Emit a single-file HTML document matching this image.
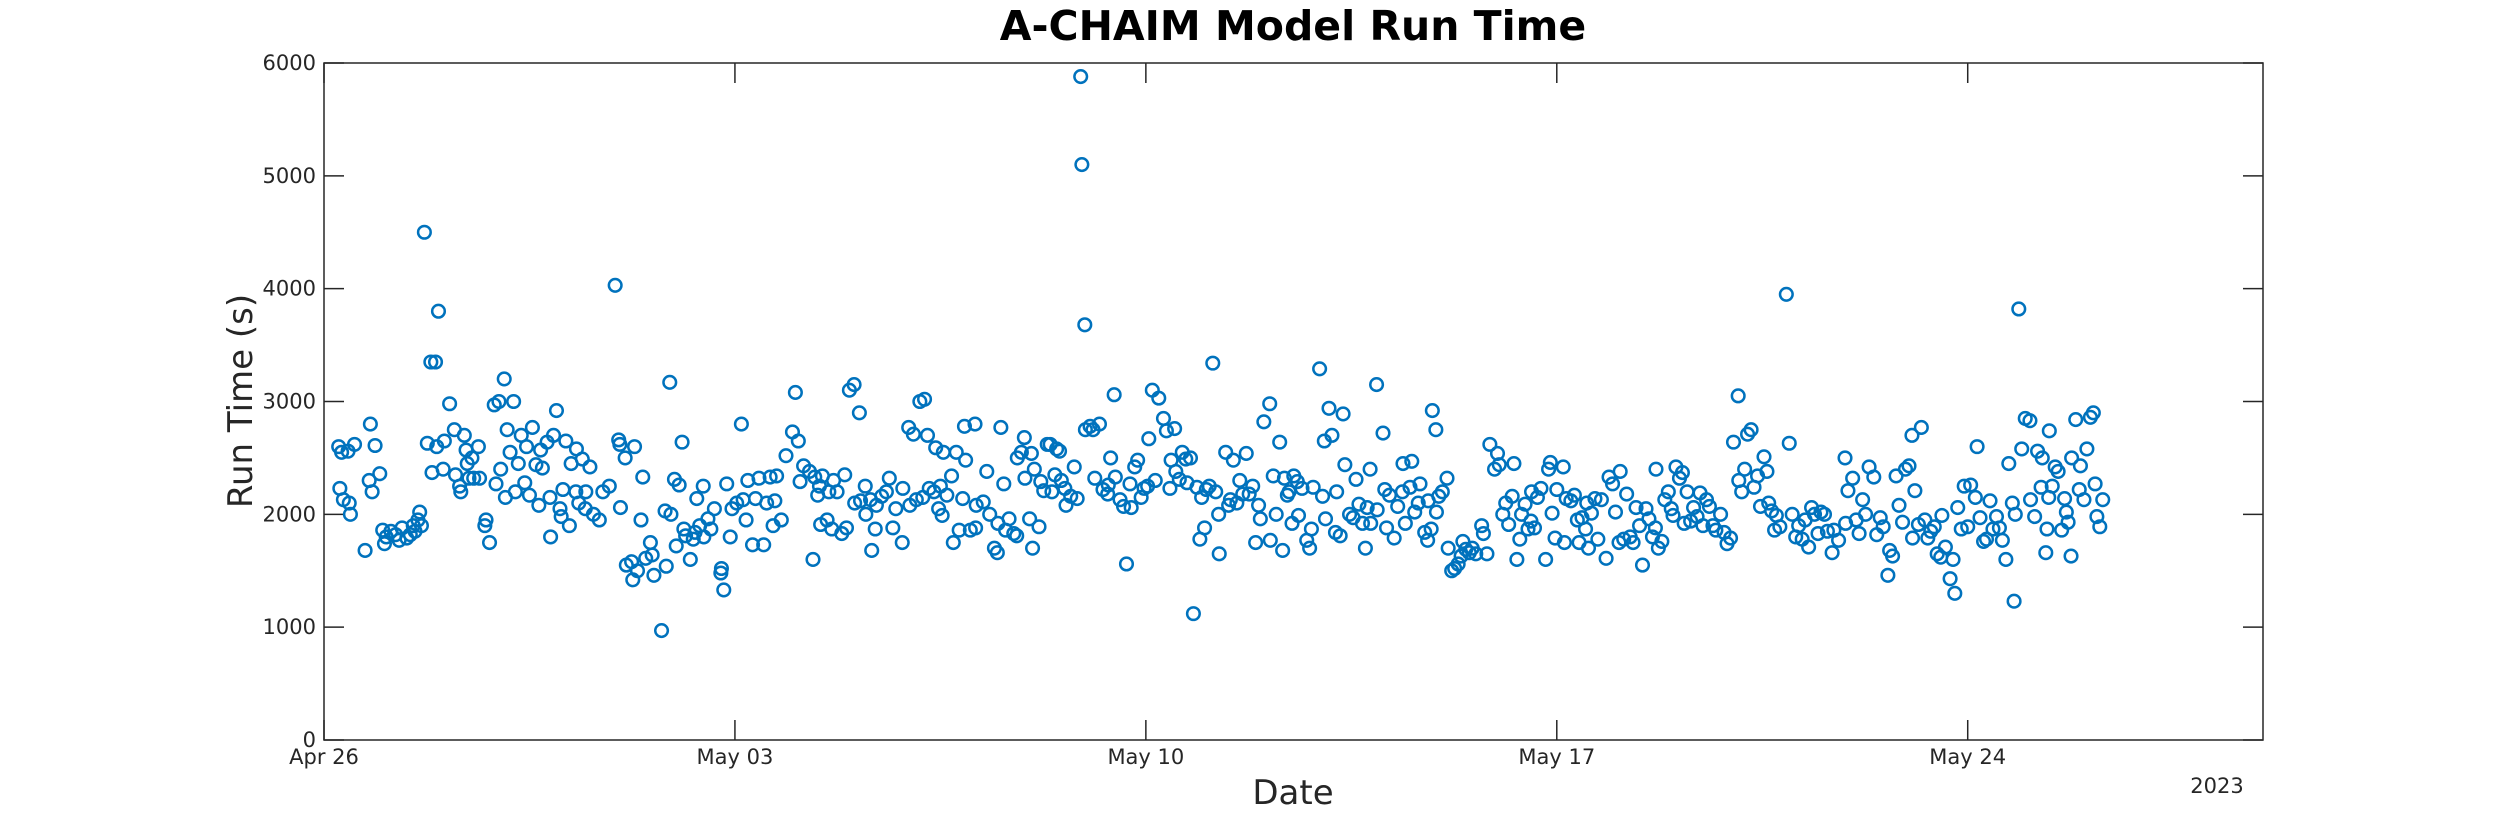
<!DOCTYPE html>
<html><head><meta charset="utf-8"><style>
html,body{margin:0;padding:0;background:#fff;}
svg{display:block;font-family:"Liberation Sans","DejaVu Sans",sans-serif;}
</style></head><body>
<svg id="chart" width="2500" height="833" viewBox="0 0 2500 833" xmlns="http://www.w3.org/2000/svg">
<rect x="0" y="0" width="2500" height="833" fill="#fff"/>
<text x="1293" y="40" text-anchor="middle" font-size="41" font-weight="bold" fill="#000" font-family="DejaVu Sans, Liberation Sans, sans-serif">A-CHAIM Model Run Time</text>
<g id="grid"></g>
<g id="marks"></g>
<rect x="324" y="63" width="1939" height="677" fill="none" stroke="#262626" stroke-width="1.5"/>
<text transform="translate(252,401) rotate(-90)" text-anchor="middle" font-size="34" fill="#262626" font-family="DejaVu Sans, Liberation Sans, sans-serif">Run Time (s)</text>
<text x="1293" y="804" text-anchor="middle" font-size="34" fill="#262626" font-family="DejaVu Sans, Liberation Sans, sans-serif">Date</text>
<text x="2217" y="793" text-anchor="middle" font-size="21" fill="#262626" font-family="DejaVu Sans, Liberation Sans, sans-serif">2023</text>
</svg>
<script>
const yTicks = [0,1000,2000,3000,4000,5000,6000];
const xTickDays = [0,7,14,21,28];
const xTickLabels = ["Apr 26","May 03","May 10","May 17","May 24"];
const runDays = [0.25,0.3,0.27,0.33,0.41,0.43,0.45,0.52,0.70,0.79,0.77,0.82,0.87,0.95,1.00,1.03,1.06,1.14,1.22,1.28,1.33,1.41,1.47,1.52,1.55,1.60,1.63,1.66,1.71,1.76,1.82,1.84,1.90,1.92,1.95,2.03,2.05,2.14,2.22,2.24,2.31,2.33,2.39,2.42,2.44,2.47,2.52,2.55,2.63,2.65,2.74,2.76,2.82,2.90,2.93,2.98,3.01,3.07,3.09,3.12,3.17,3.23,3.26,3.31,3.36,3.42,3.45,3.50,3.55,3.61,3.66,3.69,3.72,3.80,3.85,3.86,3.91,3.96,4.02,4.04,4.07,4.12,4.18,4.21,4.29,4.30,4.34,4.40,4.45,4.46,4.53,4.59,4.69,4.75,4.86,4.96,5.02,5.04,5.05,5.13,5.15,5.24,5.26,5.29,5.34,5.40,5.43,5.48,5.56,5.59,5.62,5.75,5.81,5.83,5.89,5.91,5.97,6.00,6.05,6.10,6.13,6.16,6.24,6.29,6.32,6.35,6.40,6.46,6.47,6.54,6.59,6.65,6.76,6.77,6.81,6.86,6.92,6.95,7.03,7.11,7.14,7.19,7.22,7.30,7.35,7.41,7.49,7.54,7.60,7.65,7.68,7.71,7.79,7.87,7.98,8.03,8.08,8.11,8.17,8.27,8.33,8.36,8.41,8.44,8.46,8.49,8.57,8.60,8.65,8.68,8.74,8.82,8.87,8.90,8.95,9.03,9.04,9.12,9.14,9.22,9.23,9.31,9.33,9.39,9.41,9.50,9.58,9.63,9.69,9.74,9.85,9.86,9.96,9.98,10.04,10.09,10.15,10.20,10.23,10.28,10.31,10.39,10.42,10.47,10.50,10.53,10.55,10.61,10.69,10.72,10.77,10.82,10.88,10.91,10.93,11.01,11.10,11.11,11.09,11.23,11.29,11.34,11.42,11.47,11.48,11.53,11.58,11.61,11.67,11.75,11.80,11.81,11.88,11.93,11.94,12.02,12.05,12.07,12.10,12.18,12.21,12.26,12.32,12.37,12.40,12.45,12.48,12.53,12.56,12.62,12.64,12.72,12.78,12.83,12.89,12.91,12.97,12.96,13.05,13.10,13.13,13.21,13.27,13.35,13.36,13.40,13.46,13.48,13.56,13.62,13.67,13.73,13.75,13.81,13.86,13.92,13.97,14.03,14.05,14.11,14.16,14.22,14.30,14.35,14.41,14.43,14.49,14.51,14.57,14.62,14.68,14.70,14.76,14.81,14.87,14.92,14.95,15.00,15.03,15.08,15.14,15.19,15.25,15.24,15.36,15.41,15.44,15.49,15.55,15.60,15.65,15.71,15.76,15.82,15.87,15.92,15.95,16.01,16.11,16.12,16.17,16.22,16.28,16.33,16.36,16.41,16.44,16.49,16.52,16.58,16.60,16.66,16.74,16.79,16.82,16.85,16.96,17.01,17.04,17.06,17.12,17.17,17.23,17.25,17.31,17.36,17.39,17.47,17.53,17.58,17.63,17.69,17.74,17.77,17.82,17.83,17.93,17.94,18.04,18.07,18.10,18.15,18.23,18.29,18.37,18.38,18.42,18.50,18.53,18.58,18.64,18.67,18.75,18.80,18.81,18.86,18.88,18.94,18.95,18.99,19.05,19.13,19.15,19.21,19.26,19.32,19.37,19.40,19.45,19.51,19.56,19.62,19.72,19.75,19.81,19.86,19.94,19.99,20.02,20.08,20.13,20.18,20.24,20.27,20.32,20.37,20.40,20.46,20.51,20.56,20.57,20.62,20.67,20.73,20.81,20.86,20.89,20.92,20.97,21.00,21.11,21.13,21.16,21.24,21.30,21.35,21.38,21.43,21.49,21.51,21.54,21.59,21.65,21.70,21.76,21.84,21.89,21.95,22.00,22.06,22.08,22.14,22.19,22.25,22.30,22.35,22.41,22.46,22.52,22.57,22.63,22.68,22.69,22.73,22.79,22.84,22.90,22.95,22.98,23.03,23.09,23.14,23.17,23.22,23.28,23.33,23.39,23.44,23.49,23.55,23.60,23.66,23.71,23.79,23.85,23.90,23.96,24.01,24.09,24.10,24.15,24.20,24.25,24.31,24.36,24.42,24.47,24.53,24.58,24.61,24.66,24.71,24.74,24.80,24.91,24.96,25.01,25.07,25.12,25.18,25.23,25.29,25.34,25.39,25.45,25.50,25.56,25.61,25.69,25.72,25.80,25.91,25.92,25.96,26.04,26.10,26.15,26.21,26.26,26.32,26.40,26.45,26.51,26.56,26.64,26.67,26.72,26.78,26.83,26.89,26.94,27.00,27.05,27.06,27.10,27.16,27.21,27.27,27.32,27.37,27.43,27.48,27.54,27.56,27.62,27.70,27.75,27.78,27.83,27.89,27.94,28.00,28.05,28.13,28.16,28.21,28.27,28.32,28.38,28.43,28.49,28.54,28.59,28.65,28.70,28.76,28.79,28.81,28.87,28.92,28.98,29.06,29.07,29.14,29.19,29.25,29.27,29.33,29.35,29.38,29.39,29.44,29.49,29.54,29.60,29.65,29.68,29.71,29.76,29.77,29.84,29.90,29.92,29.98,30.03,30.09,30.14,30.17,30.20,30.25,30.30];
const runSeconds = [2600,2550,2230,2130,2560,2100,2000,2620,1680,2800,2300,2200,2610,2360,1860,1740,1800,1850,1820,1770,1880,1790,1820,1900,1850,1950,2020,1900,4500,2630,3350,2370,3350,2600,3800,2400,2650,2980,2750,2350,2250,2200,2700,2570,2450,2320,2500,2320,2600,2320,1900,1950,1750,2970,2270,3000,2400,3200,2150,2750,2550,3000,2200,2450,2700,2280,2600,2170,2770,2440,2080,2570,2410,2640,2150,1800,2700,2920,2050,1980,2220,2650,1900,2450,2200,2580,2100,2490,2050,2200,2420,2000,1950,2200,2250,4030,2660,2620,2060,2500,1550,1580,1420,2600,1500,1950,2330,1610,1750,1640,1460,970,2030,1540,3170,2000,2310,1720,2260,2640,1870,1810,1600,1780,1840,2140,1900,2250,1800,1960,1870,2050,1480,1520,1330,2270,1800,2050,2100,2800,2130,1950,2300,1730,2140,2320,1730,2100,2330,1900,2120,2340,1950,2520,2730,3080,2650,2290,2430,2380,1600,2330,2170,2250,1910,2340,1950,2200,1870,2300,2200,1830,2350,1880,3100,3150,2100,2900,2120,2250,2000,2130,1680,1870,2080,2160,2200,2320,1880,2050,1750,2230,2770,2080,2710,2130,3000,2150,3020,2700,2230,2200,2590,2050,2250,1990,2550,2170,2340,1750,2550,1860,2140,2780,2480,1860,1880,2080,2800,2110,2380,2000,1700,1660,1920,2770,2270,1860,1960,1830,1810,2500,2550,2680,2320,1960,2540,1700,2400,1890,2290,2210,2620,2620,2200,2350,2580,2560,2300,2230,2080,2160,2420,2140,5880,5100,2750,3680,2780,2750,2320,2800,2220,2180,2260,2500,3060,2330,2130,2070,1560,2270,2060,2420,2480,2150,2230,2250,2670,3100,2300,3030,2850,2740,2230,2480,2760,2380,2310,2550,2490,2280,2500,1120,2240,1780,2150,1880,2220,2250,3340,2200,1650,2000,2550,2080,2130,2480,2100,2300,2180,2540,2180,2250,1750,2080,1960,2820,2980,1770,2340,2000,2640,1680,2320,2170,2200,1920,2340,2290,1990,2230,1770,1700,1870,2240,3290,2160,2650,1960,2940,2700,1840,2200,1810,2890,2440,2000,1970,2310,2090,1920,1700,2060,2400,1920,3150,2040,2720,2220,1880,2170,1790,2070,2200,2450,1920,2240,2470,2020,2100,2270,1840,1770,2120,1870,2920,2750,2020,2160,2200,2320,1700,1500,1520,1560,1630,1760,1690,1660,1700,1650,1900,1830,1650,2620,2400,2540,2440,2000,2100,1910,2160,2450,1600,1780,2000,2090,1870,1940,2200,1880,2150,2230,1600,2400,2460,2010,1790,2220,2420,1750,2140,2120,2170,1950,1750,1970,1870,2100,1700,2010,2140,1780,2130,1610,2330,2270,2020,1750,2380,1780,2180,1800,1750,2060,1900,1550,2050,1960,1800,1880,2400,1700,1760,2130,2200,2050,1990,2420,2320,2370,1920,2200,1940,2060,1980,2190,1900,2130,2070,1900,1860,2000,1840,1740,1790,2640,3050,2300,2200,2400,2710,2750,2240,2340,2070,2510,2380,2100,2030,1860,1990,1890,3950,2630,2000,1800,1900,1780,1950,1710,2060,2000,1830,2020,2000,1850,1660,1860,1770,2500,1920,2210,2320,1950,1830,2130,2000,2420,2330,1820,1970,1890,1460,1680,1630,2340,2080,1930,2400,2430,2700,1790,2210,1910,2770,1950,1790,1850,1890,1650,1620,1990,1710,1430,1600,1300,2060,1870,2250,1890,2260,2150,2600,1970,1760,1780,2120,1870,1980,1880,1770,1600,2450,2100,1230,2000,3820,2580,2850,2830,2130,1980,2560,2240,2500,1660,1870,2150,2740,2250,2420,2380,1860,2140,2020,1930,1630,2500,2840,2220,2430,2130,2580,2860,2900,2270,1980,1890,2130];

const NS = "http://www.w3.org/2000/svg";
const X0 = 324, X1 = 2263, Y0 = 740, Y1 = 63, DAYMAX = 33.03, YMAX = 6000;
function xScale(d){ return X0 + (d / DAYMAX) * (X1 - X0); }
function yScale(v){ return Y0 - (v / YMAX) * (Y0 - Y1); }
const grid = document.getElementById('grid');
const marks = document.getElementById('marks');
function mk(tag, attrs){ const e = document.createElementNS(NS, tag); for (const k in attrs) e.setAttribute(k, attrs[k]); return e; }
const TICKFONT = "DejaVu Sans, Liberation Sans, sans-serif";
yTicks.forEach(v => {
  const y = yScale(v);
  const tl = mk('line', {x1: X0, x2: X0 + 20, y1: y, y2: y, stroke: '#262626', 'stroke-width': 1.5});
  
  
  grid.appendChild(tl);
  const tr = mk('line', {x1: X1 - 20, x2: X1, y1: y, y2: y, stroke: '#262626', 'stroke-width': 1.5});
  
  
  grid.appendChild(tr);
  const t = mk('text', {x: X0 - 8, y: y + 7, 'text-anchor': 'end', 'font-size': 21, fill: '#262626', 'font-family': TICKFONT});
  t.textContent = String(v);
  
  
  grid.appendChild(t);
});
xTickDays.forEach((d, i) => {
  const x = xScale(d);
  const tb = mk('line', {x1: x, x2: x, y1: Y0, y2: Y0 - 20, stroke: '#262626', 'stroke-width': 1.5});
  
  
  grid.appendChild(tb);
  const tt = mk('line', {x1: x, x2: x, y1: Y1, y2: Y1 + 20, stroke: '#262626', 'stroke-width': 1.5});
  
  
  grid.appendChild(tt);
  const t = mk('text', {x: x, y: 764, 'text-anchor': 'middle', 'font-size': 21, fill: '#262626', 'font-family': TICKFONT});
  t.textContent = xTickLabels[i];
  
  
  grid.appendChild(t);
});
runDays.forEach((d, i) => {
  const c = mk('circle', {cx: xScale(d), cy: yScale(runSeconds[i]), r: 6.3, fill: 'none', stroke: '#0072BD', 'stroke-width': 2.5});
  
  
  marks.appendChild(c);
});
</script>
</body></html>
